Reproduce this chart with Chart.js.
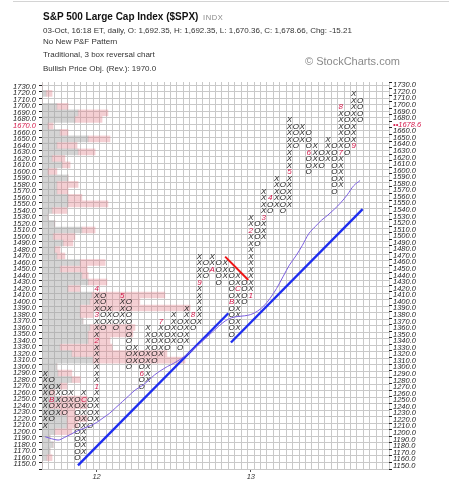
<!DOCTYPE html>
<html>
<head>
<meta charset="utf-8">
<title>S&amp;P 500 Large Cap Index ($SPX) P&amp;F</title>
<script src="https://cdn.jsdelivr.net/npm/chart.js@4.4.1/dist/chart.umd.min.js"></script>
<style>
 html,body{margin:0;padding:0;background:#fff;}
 #wrap{position:relative;width:449px;height:480px;overflow:hidden;font-family:"Liberation Sans",Arial,sans-serif;}
 #c{position:absolute;left:0;top:0;}
 .t{position:absolute;white-space:nowrap;line-height:1;}
</style>
</head>
<body>
<div id="wrap">
 <canvas id="c" width="449" height="480"></canvas>
 <div style="position:absolute;left:13px;top:1px;width:436px;height:1px;background:#d4d4d4"></div>
 <div class="t" style="left:43px;top:12px;font-size:10px;font-weight:bold;color:#111">S&amp;P 500 Large Cap Index ($SPX)</div>
 <div class="t" style="left:203px;top:13.5px;font-size:7.5px;color:#888;letter-spacing:0.6px">INDX</div>
 <div class="t" style="left:43px;top:27px;font-size:8px;color:#333">03-Oct, 16:18 ET, daily, O: 1,692.35, H: 1,692.35, L: 1,670.36, C: 1,678.66, Chg: -15.21</div>
 <div class="t" style="left:43px;top:38px;font-size:8px;color:#333">No New P&amp;F Pattern</div>
 <div class="t" style="left:43px;top:51px;font-size:8px;color:#333">Traditional, 3 box reversal chart</div>
 <div class="t" style="left:43px;top:65px;font-size:8px;color:#333">Bullish Price Obj. (Rev.): 1970.0</div>
 <div class="t" style="left:305px;top:56px;font-size:11px;color:#8a8a8a">© StockCharts.com</div>
</div>
<script>
// ---------- DATA ----------
const BOX = 10;
const PRICE_MIN = 1150, PRICE_MAX = 1730;
const LAST_PRICE = 1678.6;
const LAST_ROW = 1670;

// P&F columns (kind, lowest box, highest box)
const colKind = 'XOXOXOXOXOXOXOXOXOXOXOXOXOXOXOXOXOXOXOXOXOXOXOXOXO';
const colLow  = [1210,1220,1230,1230,1240,1160,1170,1210,1220,1360,1370,1360,1370,1300,1310,1270,1280,1310,1320,1330,1340,1330,1340,1360,1370,1440,1450,1430,1440,1350,1360,1400,1410,1490,1500,1540,1550,1540,1550,1640,1650,1600,1610,1610,1620,1570,1580,1630,1640,1680];
const colHigh = [1290,1280,1270,1260,1260,1250,1260,1250,1420,1410,1390,1380,1410,1400,1330,1320,1360,1350,1370,1360,1380,1370,1390,1380,1470,1460,1470,1460,1460,1450,1440,1430,1530,1520,1570,1560,1590,1580,1680,1670,1670,1660,1640,1630,1650,1640,1700,1690,1720,1710];

// month markers (replace the box they sit in)
const monthCol   = [1,6,8,8,8,8,12,15,18,23,24,26,29,30,32,32,34,35,38,41,46,46,48];
const monthPrice = [1250,1250,1270,1340,1380,1420,1410,1290,1370,1380,1430,1450,1400,1420,1410,1510,1530,1560,1600,1630,1630,1700,1640];
const monthText  = ['B','C','1','2','3','4','5','6','7','8','9','A','B','C','1','2','3','4','5','6','7','8','9'];

// year labels on the x axis
const yearCol  = [8, 32];
const yearText = ['12', '13'];

// moving average per column
const maValues = [1192,1189,1187,1191,1196,1201,1205,1209,1214,1221,1228,1237,1246,1255,1264,1270,1278,1287,1294,1300,1305,1311,1318,1326,1335,1344,1353,1362,1370,1375,1377,1378,1380,1385,1393,1405,1420,1438,1456,1470,1486,1504,1515,1525,1533,1542,1552,1564,1578,1586];

// trend lines (column, price)
const sup1Cols = [5.1, 28.5],  sup1Prices = [1148, 1382];
const sup2Cols = [28.9, 49.4], sup2Prices = [1337, 1542];
const resCols  = [28.0, 31.6], resPrices  = [1469, 1433];

// volume-at-price (rows 1150 .. 1730 ascending)
const volGray = [0,1.4,2.3,3.2,2.3,3.7,7.2,7.2,5.2,2.3,5.2,2.3,5.2,8.6,4.6,4.3,14.7,8.6,5.2,13.3,13.3,13.8,11.8,11.0,11.0,13.8,14.4,7.5,13.3,11.5,5.2,11.0,4.3,3.7,6.1,3.2,11.5,3.7,1.7,2.9,7.5,7.5,4.3,4.3,7.5,1.7,5.8,2.9,10.4,4.3,13.3,5.2,1.7,9.5,10.4,4.3,0,1.2,0];
const volPink = [0,1.5,0,0,0,4.9,3.2,5.8,4.3,10.7,7.8,1.4,2.0,2.4,4.0,0,26.5,27.4,15.0,6.3,12.9,13.0,0,3.7,31.7,14.4,21.0,3.5,5.4,1.8,7.8,7.2,2.3,1.5,2.8,6.3,3.8,0,0,4.3,11.5,4.0,3.2,6.1,0,2.6,2.3,3.7,4.9,5.8,6.3,2.3,1.5,7.8,8.6,3.2,0,1.7,0];

// ---------- BUILD ----------
const priceRows = [];
for (let v = PRICE_MIN; v <= PRICE_MAX; v += BOX) priceRows.push(v);
const NCOLS = 54;

const isMonth = (c, v) => monthCol.some((mc, i) => mc === c && monthPrice[i] === v);
const xPts = [], oPts = [], mPts = [];
colKind.split('').forEach((k, c) => {
  for (let v = colLow[c]; v <= colHigh[c]; v += BOX) {
    if (isMonth(c, v)) continue;
    (k === 'X' ? xPts : oPts).push({x: c, y: v, t: k});
  }
});
monthCol.forEach((c, i) => mPts.push({x: c, y: monthPrice[i], t: monthText[i]}));

const yTicks = [];
for (let v = PRICE_MIN - BOX / 2; v <= PRICE_MAX + BOX / 2; v += BOX / 2) yTicks.push(v);
const isYB = v => Math.round(v - (PRICE_MIN - BOX / 2)) % BOX === 0;
const xTicks = [];
for (let c = -0.5; c <= NCOLS - 0.5; c += 1) xTicks.push(c);
yearCol.forEach(c => xTicks.push(c));
xTicks.sort((a, b) => a - b);
const isXB = v => Math.abs(Math.abs(v - Math.floor(v)) - 0.5) < 1e-6;

const GRID = '#c9c9c9';
const NONE = 'rgba(0,0,0,0)';
const RED = '#d4184a';
const axisFont = {family: '"Liberation Sans", Arial, sans-serif', size: 7.5, style: 'italic'};
const GLYPH_FONT = 'italic 8px "Liberation Sans", Arial, sans-serif';

const glyphPlugin = {
  id: 'pfGlyphs',
  afterDatasetDraw(chart, args) {
    const ds = chart.data.datasets[args.index];
    if (!ds.glyphFont) return;
    const ctx = chart.ctx;
    ctx.save();
    ctx.font = ds.glyphFont;
    ctx.fillStyle = ds.glyphColor;
    ctx.textAlign = 'center';
    ctx.textBaseline = 'middle';
    args.meta.data.forEach((el, i) => ctx.fillText(ds.data[i].t, el.x, el.y + 0.5));
    ctx.restore();
  }
};

const toPts = (xs, ys) => xs.map((x, i) => ({x, y: ys[i]}));

new Chart(document.getElementById('c'), {
  type: 'scatter',
  data: {
    datasets: [
      {type: 'line', data: maValues.map((v, i) => ({x: i, y: v})), borderColor: '#7b5fe0', borderWidth: 1,
       pointRadius: 0, cubicInterpolationMode: 'monotone', order: 1},
      {type: 'line', data: toPts(sup1Cols, sup1Prices), borderColor: '#1f2ef0', borderWidth: 2.4, pointRadius: 0, order: 1},
      {type: 'line', data: toPts(sup2Cols, sup2Prices), borderColor: '#1f2ef0', borderWidth: 2.4, pointRadius: 0, order: 1},
      {type: 'line', data: toPts(resCols, resPrices), borderColor: '#ee1515', borderWidth: 2, pointRadius: 0, order: 1},
      {data: xPts, pointRadius: 0, order: 2, glyphFont: GLYPH_FONT, glyphColor: '#1e1e1e'},
      {data: oPts, pointRadius: 0, order: 2, glyphFont: GLYPH_FONT, glyphColor: '#1e1e1e'},
      {data: mPts, pointRadius: 0, order: 2, glyphFont: GLYPH_FONT, glyphColor: RED},
      {type: 'bar', indexAxis: 'y', xAxisID: 'xv', yAxisID: 'y', grouped: false, order: 3,
       data: priceRows.map((v, i) => ({y: v, x: [0, volGray[i]]})),
       backgroundColor: 'rgba(160,160,160,0.45)', borderWidth: 0, barThickness: 6},
      {type: 'bar', indexAxis: 'y', xAxisID: 'xv', yAxisID: 'y', grouped: false, order: 3,
       data: priceRows.map((v, i) => ({y: v, x: [volGray[i], volGray[i] + volPink[i]]})),
       backgroundColor: 'rgba(226,128,140,0.38)', borderWidth: 0, barThickness: 6}
    ]
  },
  options: {
    responsive: false,
    devicePixelRatio: 1,
    animation: false,
    events: [],
    layout: {padding: {top: 82, left: 0, right: 0, bottom: 0}},
    plugins: {legend: {display: false}, tooltip: {enabled: false}},
    scales: {
      x: {
        type: 'linear', min: -0.5, max: NCOLS - 0.5, position: 'bottom',
        afterBuildTicks: ax => { ax.ticks = xTicks.map(v => ({value: v})); },
        afterFit: ax => { ax.height = 11; },
        grid: {
          color: ctx => (ctx.tick && isXB(ctx.tick.value)) ? GRID : NONE,
          tickColor: ctx => (ctx.tick && yearCol.includes(ctx.tick.value)) ? '#555' : NONE,
          tickLength: 3
        },
        border: {display: false},
        ticks: {
          autoSkip: false, maxRotation: 0, padding: 0, color: '#333', font: axisFont,
          callback: v => { const i = yearCol.indexOf(v); return i >= 0 ? yearText[i] : ''; }
        }
      },
      xv: {type: 'linear', min: 0, max: 100, display: false},
      y: {
        type: 'linear', min: PRICE_MIN - BOX / 2, max: PRICE_MAX + BOX / 2, position: 'left',
        afterBuildTicks: ax => { ax.ticks = yTicks.map(v => ({value: v})); },
        afterFit: ax => { ax.width = 42; },
        grid: {
          color: ctx => (ctx.tick && isYB(ctx.tick.value)) ? GRID : NONE,
          tickColor: ctx => (ctx.tick && isYB(ctx.tick.value)) ? '#222' : NONE,
          tickLength: 3
        },
        border: {display: false},
        ticks: {
          autoSkip: false, padding: 3, font: axisFont,
          color: ctx => (ctx.tick && ctx.tick.value === LAST_ROW) ? RED : '#222',
          callback: v => isYB(v) ? '' : v.toFixed(1)
        }
      },
      yR: {
        type: 'linear', min: PRICE_MIN - BOX / 2, max: PRICE_MAX + BOX / 2, position: 'right',
        afterBuildTicks: ax => { ax.ticks = yTicks.map(v => ({value: v})); },
        afterFit: ax => { ax.width = 60; },
        grid: {
          drawOnChartArea: false,
          color: NONE,
          tickColor: ctx => (ctx.tick && isYB(ctx.tick.value)) ? '#222' : NONE,
          tickLength: 3
        },
        border: {display: false},
        ticks: {
          autoSkip: false, padding: 1, font: axisFont,
          color: ctx => (ctx.tick && ctx.tick.value === LAST_ROW) ? RED : '#222',
          callback: v => isYB(v) ? '' : (v === LAST_ROW ? '••' + LAST_PRICE.toFixed(1) : v.toFixed(1))
        }
      }
    }
  },
  plugins: [glyphPlugin]
});
</script>
</body>
</html>
